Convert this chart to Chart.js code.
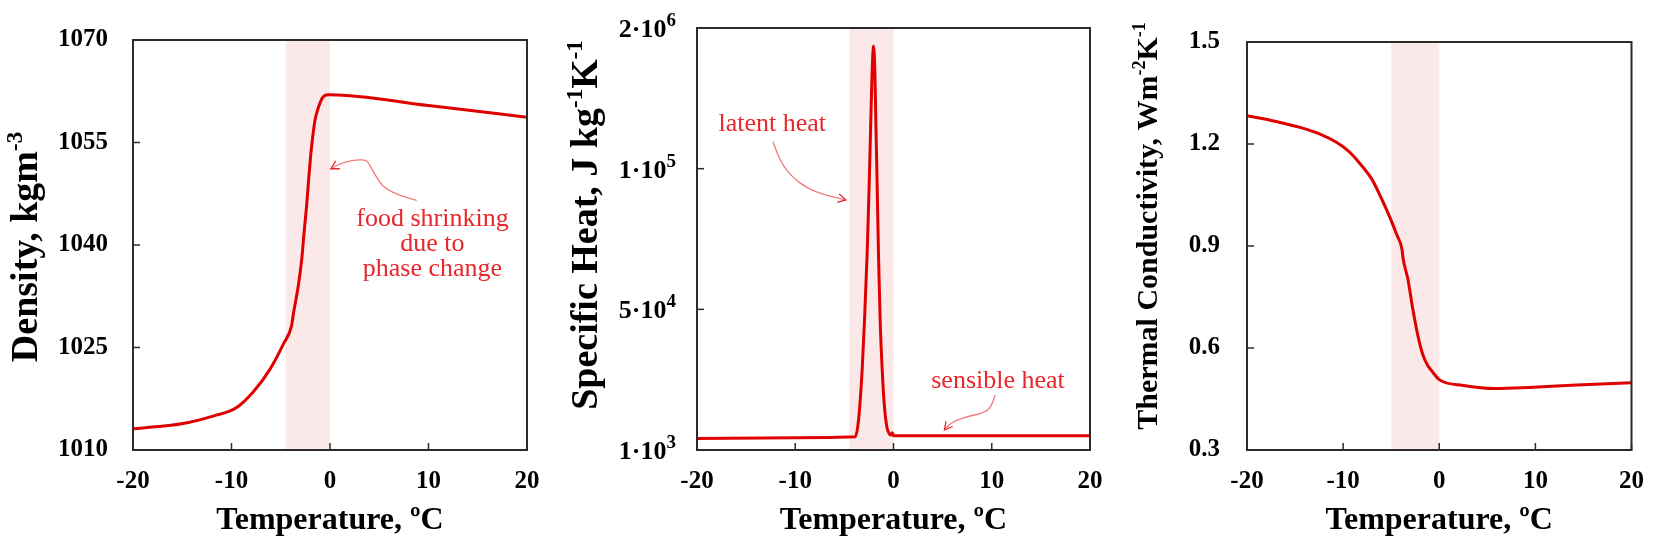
<!DOCTYPE html>
<html>
<head>
<meta charset="utf-8">
<script src="https://cdn.jsdelivr.net/npm/chart.js@4.4.1/dist/chart.umd.min.js"></script>
<style>
  html, body { margin: 0; padding: 0; background: #fff; }
  body { width: 1661px; height: 554px; position: relative; overflow: hidden; }
  .panel { position: absolute; top: 0; height: 554px; }
</style>
</head>
<body>
<div class="panel" style="left:0;width:560px"><canvas id="density"></canvas></div>
<div class="panel" style="left:560px;width:560px"><canvas id="specificHeat"></canvas></div>
<div class="panel" style="left:1120px;width:541px"><canvas id="conductivity"></canvas></div>
<script>
// shared temperature axis
const tempTicks = [-20, -10, 0, 10, 20];
const tempTickLabels = ['-20', '-10', '0', '10', '20'];

// density, kg/m3
const densityTemp = [-20, -16.9, -14.5, -11.8, -9.6, -7.8, -6.1, -4.7, -3.9, -3.72, -3.21, -2.87, -2.64, -2.36, -2.16, -1.96, -1.75, -1.52, -1.18, -0.74, -0.17, 0, 10, 20];
const densityValues = [1013.1, 1013.5, 1014.0, 1015.0, 1016.1, 1018.5, 1021.8, 1025.6, 1028.2, 1029.9, 1034.1, 1037.9, 1041.7, 1046.0, 1049.7, 1053.1, 1055.9, 1058.3, 1060.1, 1061.6, 1062.0, 1062.0, 1060.4, 1058.7];
const densityTicks = [1010, 1025, 1040, 1055, 1070];
const densityTickLabels = ['1010', '1025', '1040', '1055', '1070'];

// specific heat, J/(kg K) - the axis is broken into equal segments between ticks
const cpTemp = [-20, -10, -3.9, -3.56, -3.19, -2.95, -2.68, -2.48, -2.31, -2.17, -2.04, -1.90, -1.80, -1.66, -1.53, -1.36, -1.15, -0.95, -0.68, -0.41, -0.25, -0.12, 0, 10, 20];
const cpValues = [5000, 5300, 5600, 11400, 28900, 46300, 69900, 93600, 757000, 1432000, 1757000, 1432000, 757000, 93600, 69900, 46300, 28900, 17300, 9100, 6600, 6200, 7000, 6000, 6000, 6000];
const cpTicks = [1e3, 5e4, 1e5, 2e6];
const cpTickBase = ['1\u00b710', '5\u00b710', '1\u00b710', '2\u00b710'];
const cpTickExp = ['3', '4', '5', '6'];

// thermal conductivity
const kTemp = [-20, -17.1, -14.4, -12.4, -10.7, -9.35, -8.0, -7.0, -6.0, -5.1, -4.45, -3.87, -3.77, -3.26, -2.76, -2.25, -1.74, -1.23, -0.73, 0, 2.5, 5.9, 9.3, 14.3, 20];
const kValues = [1.283, 1.267, 1.248, 1.229, 1.205, 1.177, 1.134, 1.096, 1.039, 0.982, 0.935, 0.889, 0.865, 0.802, 0.716, 0.640, 0.583, 0.550, 0.531, 0.507, 0.490, 0.481, 0.484, 0.491, 0.498];
const kTicks = [0.3, 0.6, 0.9, 1.2, 1.5];
const kTickLabels = ['0.3', '0.6', '0.9', '1.2', '1.5'];

// phase change zones
const densityBand = [-4.5, 0];
const cpBand = [-4.5, 0];
const kBand = [-5, 0];

const SERIF = "'Liberation Serif', 'Times New Roman', serif";
const LINE_RED = '#e00000';
const NOTE_RED = '#e8262b';
const ARROW_RED = '#ef7b7b';
const BAND = '#fbe9e9';
const FRAME = '#2b2b2b';

Chart.defaults.font.family = SERIF;
Chart.defaults.color = '#000';

// linear pieces of equal length between the given break values
class BrokenScale extends Chart.LinearScale {
  static id = 'broken';
  static defaults = {};
  determineDataLimits() {
    this.min = cpTicks[0];
    this.max = cpTicks[cpTicks.length - 1];
  }
  buildTicks() {
    return cpTicks.map(v => ({ value: v }));
  }
  piece(value) {
    if (value <= cpTicks[0]) return 0;
    for (let i = 1; i < cpTicks.length; i++) {
      if (value <= cpTicks[i]) return i - 1 + (value - cpTicks[i - 1]) / (cpTicks[i] - cpTicks[i - 1]);
    }
    return cpTicks.length - 1;
  }
  getPixelForValue(value) {
    return this.getPixelForDecimal(this.piece(value) / (cpTicks.length - 1));
  }
  getValueForPixel(pixel) {
    const p = this.getDecimalForPixel(pixel) * (cpTicks.length - 1);
    const i = Math.min(Math.floor(p), cpTicks.length - 2);
    return cpTicks[i] + (p - i) * (cpTicks[i + 1] - cpTicks[i]);
  }
}
Chart.register(BrokenScale);

// text with superscripts, left to right from x at baseline y
function richWidth(ctx, parts, size, supScale) {
  let w = 0;
  parts.forEach(p => {
    ctx.font = 'bold ' + (p.sup ? Math.round(size * supScale) : size) + 'px ' + SERIF;
    w += ctx.measureText(p.t).width;
  });
  return w;
}
function drawRich(ctx, parts, x, y, size, supScale, raise) {
  parts.forEach(p => {
    ctx.font = 'bold ' + (p.sup ? Math.round(size * supScale) : size) + 'px ' + SERIF;
    ctx.fillText(p.t, x, p.sup ? y - size * raise : y);
    x += ctx.measureText(p.t).width;
  });
}

function smoothPath(ctx, pts) {
  ctx.beginPath();
  ctx.moveTo(pts[0][0], pts[0][1]);
  for (let i = 1; i < pts.length - 1; i++) {
    const mx = (pts[i][0] + pts[i + 1][0]) / 2, my = (pts[i][1] + pts[i + 1][1]) / 2;
    ctx.quadraticCurveTo(pts[i][0], pts[i][1], mx, my);
  }
  const last = pts[pts.length - 1];
  ctx.lineTo(last[0], last[1]);
  ctx.stroke();
}

function makeDecor(cfg) {
  return {
    id: 'decor',
    beforeDatasetsDraw(chart) {
      const { ctx, chartArea: a, scales: { x } } = chart;
      const x0 = x.getPixelForValue(cfg.band[0]);
      const x1 = x.getPixelForValue(cfg.band[1]);
      ctx.save();
      ctx.fillStyle = BAND;
      ctx.fillRect(x0, a.top, x1 - x0, a.bottom - a.top);
      ctx.restore();
    },
    afterDraw(chart) {
      const { ctx, chartArea: a, scales: { x, y } } = chart;
      const w = a.right - a.left, h = a.bottom - a.top;
      ctx.save();

      // frame with inward ticks
      ctx.strokeStyle = FRAME;
      ctx.lineWidth = 1.5;
      x.ticks.forEach(t => {
        const px = x.getPixelForValue(t.value);
        ctx.beginPath(); ctx.moveTo(px, a.bottom); ctx.lineTo(px, a.bottom - 7); ctx.stroke();
      });
      y.ticks.forEach(t => {
        const py = y.getPixelForValue(t.value);
        ctx.beginPath(); ctx.moveTo(a.left, py); ctx.lineTo(a.left + 7, py); ctx.stroke();
      });
      ctx.lineWidth = 2;
      ctx.strokeRect(a.left, a.top, w, h);

      // y tick labels with exponents
      if (cfg.expTicks) {
        ctx.fillStyle = '#000';
        ctx.textBaseline = 'alphabetic';
        ctx.textAlign = 'left';
        y.ticks.forEach((t, i) => {
          const parts = [{ t: cpTickBase[i] }, { t: cpTickExp[i], sup: true }];
          const tw = richWidth(ctx, parts, 26, 0.74);
          drawRich(ctx, parts, a.left - 21 - tw, y.getPixelForValue(t.value) + 9, 26, 0.74, 0.42);
        });
      }

      // rotated y title
      ctx.fillStyle = '#000';
      ctx.textBaseline = 'alphabetic';
      ctx.textAlign = 'left';
      const tw = richWidth(ctx, cfg.yTitle, cfg.yTitleSize, 0.6);
      ctx.save();
      ctx.translate(cfg.yTitleX, (a.top + a.bottom) / 2 + cfg.yTitleShift);
      ctx.rotate(-Math.PI / 2);
      drawRich(ctx, cfg.yTitle, -tw / 2, 0, cfg.yTitleSize, 0.6, 0.4);
      ctx.restore();

      // notes
      ctx.fillStyle = NOTE_RED;
      ctx.textAlign = 'center';
      ctx.font = '26px ' + SERIF;
      cfg.notes.forEach(n => ctx.fillText(n.text, a.left + n.fx * w, a.top + n.fy * h));

      // arrows
      ctx.strokeStyle = ARROW_RED;
      ctx.lineWidth = 1.3;
      cfg.arrows.forEach(arr => {
        const pts = arr.map(p => [a.left + p[0] * w, a.top + p[1] * h]);
        smoothPath(ctx, pts);
        const [tx, ty] = pts[pts.length - 1];
        const [sx, sy] = pts[pts.length - 2];
        const ang = Math.atan2(ty - sy, tx - sx);
        ctx.strokeStyle = NOTE_RED;
        ctx.beginPath();
        ctx.moveTo(tx - 9 * Math.cos(ang - 0.5), ty - 9 * Math.sin(ang - 0.5));
        ctx.lineTo(tx, ty);
        ctx.lineTo(tx - 9 * Math.cos(ang + 0.5), ty - 9 * Math.sin(ang + 0.5));
        ctx.stroke();
        ctx.strokeStyle = ARROW_RED;
      });
      ctx.restore();
    }
  };
}

function tempAxis() {
  return {
    type: 'linear',
    min: -20,
    max: 20,
    grid: { display: false, drawTicks: false },
    border: { display: false },
    afterBuildTicks: s => { s.ticks = tempTicks.map(v => ({ value: v })); },
    afterFit: s => { s.height = 104; },
    ticks: {
      padding: 17,
      maxRotation: 0,
      font: { size: 25, weight: 'bold' },
      callback: (v, i) => tempTickLabels[i]
    },
    title: {
      display: true,
      text: 'Temperature, \u00baC',
      font: { size: 32, weight: 'bold' },
      padding: { top: 0, bottom: 14 }
    }
  };
}

function makeChart(id, temps, values, yAxis, padding, decor) {
  new Chart(document.getElementById(id), {
    type: 'line',
    data: {
      datasets: [{
        data: temps.map((t, i) => ({ x: t, y: values[i] })),
        borderColor: LINE_RED,
        borderWidth: 3,
        pointRadius: 0,
        fill: false,
        cubicInterpolationMode: 'monotone'
      }]
    },
    options: {
      responsive: true,
      maintainAspectRatio: false,
      animation: false,
      layout: { padding: padding },
      plugins: { legend: { display: false }, tooltip: { enabled: false } },
      scales: { x: tempAxis(), y: yAxis }
    },
    plugins: [makeDecor(decor)]
  });
}

// Density
makeChart('density', densityTemp, densityValues, {
  type: 'linear',
  min: 1010,
  max: 1070,
  grid: { display: false, drawTicks: false },
  border: { display: false },
  afterBuildTicks: s => { s.ticks = densityTicks.map(v => ({ value: v })); },
  afterFit: s => { s.width = 133; },
  ticks: { padding: 25, font: { size: 25, weight: 'bold' }, callback: (v, i) => densityTickLabels[i] }
}, { top: 27, right: 33, bottom: 0, left: 0 }, {
  band: densityBand,
  yTitle: [{ t: 'Density, kgm' }, { t: '-3', sup: true }],
  yTitleSize: 38, yTitleX: 37, yTitleShift: 2,
  notes: [
    { text: 'food shrinking', fx: 0.760, fy: 0.4542 },
    { text: 'due to', fx: 0.760, fy: 0.515 },
    { text: 'phase change', fx: 0.760, fy: 0.5758 }
  ],
  arrows: [[[0.720, 0.391], [0.644, 0.373], [0.610, 0.322], [0.597, 0.298], [0.589, 0.292], [0.559, 0.293], [0.525, 0.302], [0.502, 0.314]]]
});

// Specific heat
makeChart('specificHeat', cpTemp, cpValues, {
  type: 'broken',
  grid: { display: false, drawTicks: false },
  border: { display: false },
  afterFit: s => { s.width = 137; },
  ticks: { callback: () => '' }
}, { top: 28, right: 30, bottom: 0, left: 0 }, {
  band: cpBand,
  expTicks: true,
  yTitle: [{ t: 'Specific Heat, J kg' }, { t: '-1', sup: true }, { t: 'K' }, { t: '-1', sup: true }],
  yTitleSize: 38, yTitleX: 37, yTitleShift: -14,
  notes: [
    { text: 'latent heat', fx: 0.1915, fy: 0.2452 },
    { text: 'sensible heat', fx: 0.766, fy: 0.8537 }
  ],
  arrows: [
    [[0.1932, 0.2689], [0.2034, 0.2964], [0.2202, 0.3282], [0.2456, 0.3557], [0.2797, 0.3794], [0.3219, 0.3953], [0.3788, 0.4072]],
    [[0.7585, 0.8696], [0.7501, 0.8973], [0.7287, 0.9130], [0.6949, 0.9187], [0.6611, 0.9289], [0.6397, 0.9408], [0.6296, 0.9526]]
  ]
});

// Thermal conductivity
makeChart('conductivity', kTemp, kValues, {
  type: 'linear',
  min: 0.3,
  max: 1.5,
  grid: { display: false, drawTicks: false },
  border: { display: false },
  afterBuildTicks: s => { s.ticks = kTicks.map(v => ({ value: v })); },
  afterFit: s => { s.width = 127; },
  ticks: { padding: 27, font: { size: 25, weight: 'bold' }, callback: (v, i) => kTickLabels[i] }
}, { top: 28, right: 20, bottom: 0, left: 0 }, {
  band: kBand,
  yTitle: [{ t: 'Thermal Conductivity, Wm' }, { t: '-2', sup: true }, { t: 'K' }, { t: '-1', sup: true }],
  yTitleSize: 30, yTitleX: 37, yTitleShift: -20,
  notes: [],
  arrows: []
});
</script>
</body>
</html>
